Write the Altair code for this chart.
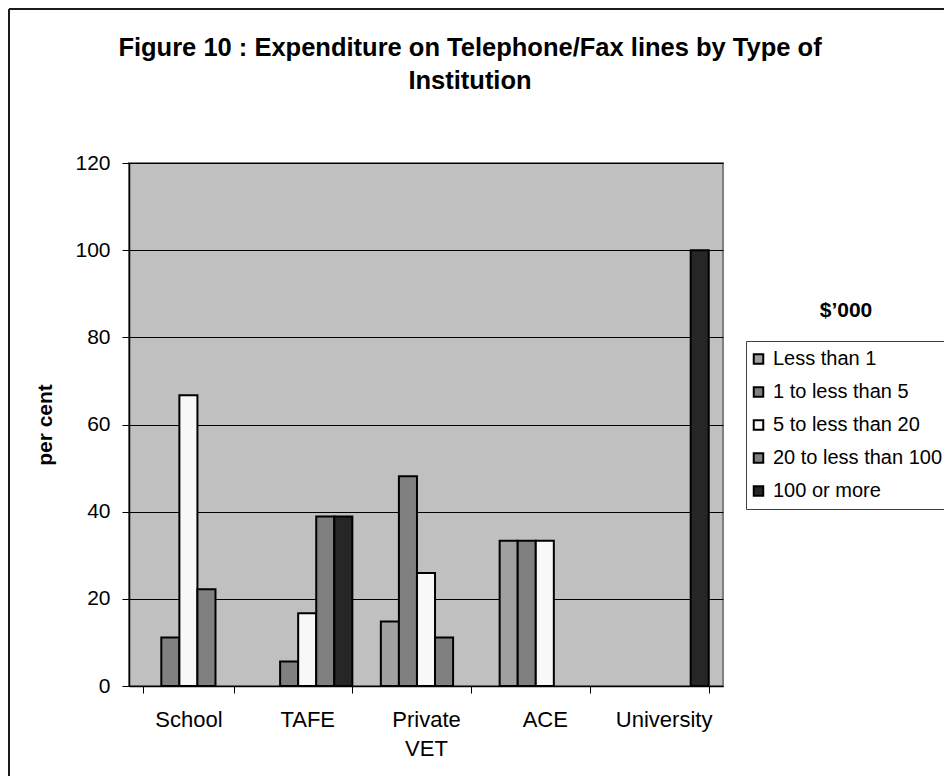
import altair as alt
import pandas as pd

FONT = "Liberation Sans"

institutions = ["School", "TAFE", "Private VET", "ACE", "University"]
bands = ["Less than 1", "1 to less than 5", "5 to less than 20",
         "20 to less than 100", "100 or more"]

less_than_1 = [0, 0, 14.8, 33.3, 0]
one_to_5 = [11.1, 5.6, 48.1, 33.3, 0]
five_to_20 = [66.7, 16.7, 25.9, 33.3, 0]
twenty_to_100 = [22.2, 38.9, 11.1, 0, 0]
hundred_plus = [0, 38.9, 0, 0, 100]

colors = ["#A0A0A0", "#808080", "#F8F8F8", "#808080", "#262626"]
y_ticks = [0, 20, 40, 60, 80, 100, 120]

title_lines = ["Figure 10 : Expenditure on Telephone/Fax lines by Type of", "Institution"]
legend_heading = "$’000"

series = [less_than_1, one_to_5, five_to_20, twenty_to_100, hundred_plus]
rows = []
for band, vals in zip(bands, series):
    for inst, v in zip(institutions, vals):
        rows.append({"institution": inst, "band": band, "value": v})
df = pd.DataFrame(rows)

one = pd.DataFrame({"k": [0]})

bars = alt.Chart(df).transform_filter("datum.value > 0").mark_bar(
    stroke="black", strokeWidth=2
).encode(
    x=alt.X("institution:N", sort=institutions,
            scale=alt.Scale(domain=institutions, paddingInner=0.24, paddingOuter=0.12),
            axis=alt.Axis(title=None, labelAngle=0, labelFont=FONT, labelFontSize=22,
                          labelColor="black", labelPadding=16, labelLineHeight=29,
                          labelExpr="datum.label == 'Private VET' ? ['Private', 'VET'] : datum.label",
                          tickBand="extent", tickSize=7, tickColor="black", tickWidth=1,
                          domainColor="black", domainWidth=1.5, grid=False)),
    xOffset=alt.XOffset("band:N", sort=bands,
                        scale=alt.Scale(domain=bands, paddingInner=0, paddingOuter=0)),
    y=alt.Y("value:Q", scale=alt.Scale(domain=[0, 120], nice=False),
            axis=alt.Axis(values=y_ticks, title="per cent", titleFont=FONT, titleFontSize=21,
                          titleFontWeight="bold", titleColor="black", titleAngle=-90,
                          titleX=-84, titleY=261.5, titleAlign="center", titleBaseline="middle",
                          labelFont=FONT, labelFontSize=21, labelColor="black", labelPadding=12,
                          tickSize=7, tickColor="black", tickWidth=1,
                          domainColor="black", domainWidth=1.5,
                          grid=True, gridColor="black", gridWidth=1)),
    fill=alt.Fill("band:N", sort=bands, scale=alt.Scale(domain=bands, range=colors),
                  legend=alt.Legend(title=None, orient="none", legendX=617, legendY=178,
                                    symbolType="square", symbolSize=90, symbolOffset=-5.5,
                                    symbolStrokeColor="black", symbolStrokeWidth=2,
                                    labelFont=FONT, labelFontSize=20, labelColor="black",
                                    labelOffset=4.5, rowPadding=13, padding=8,
                                    strokeColor="#404040", fillColor="white",
                                    labelLimit=400)),
)

legend_title = alt.Chart(one).mark_text(
    text=legend_heading, font=FONT, fontSize=21, fontWeight="bold", color="black",
    align="center", baseline="middle"
).encode(x=alt.value(717), y=alt.value(148))

chart_title = alt.Chart(one).mark_text(
    text=title_lines, font=FONT, fontSize=25.5, fontWeight="bold", color="black",
    align="center", baseline="alphabetic", lineHeight=33
).encode(x=alt.value(341), y=alt.value(-107))

border_left = alt.Chart(one).mark_rule(color="#1a1a1a", strokeWidth=2).encode(
    x=alt.value(-120), y=alt.value(-154), y2=alt.value(700))
border_top = alt.Chart(one).mark_rule(color="#1a1a1a", strokeWidth=2).encode(
    y=alt.value(-154), x=alt.value(-120), x2=alt.value(900))

chart = alt.layer(border_left, border_top, bars, legend_title, chart_title).properties(
    width=594, height=523,
    padding={"left": 121, "top": 155, "right": 221, "bottom": 90},
    autosize=alt.AutoSizeParams(type="none"),
    background="white",
).configure_view(fill="#C0C0C0", stroke="#808080", strokeWidth=2)

chart.save("out.html", embed_options={"renderer": "svg", "actions": False})
